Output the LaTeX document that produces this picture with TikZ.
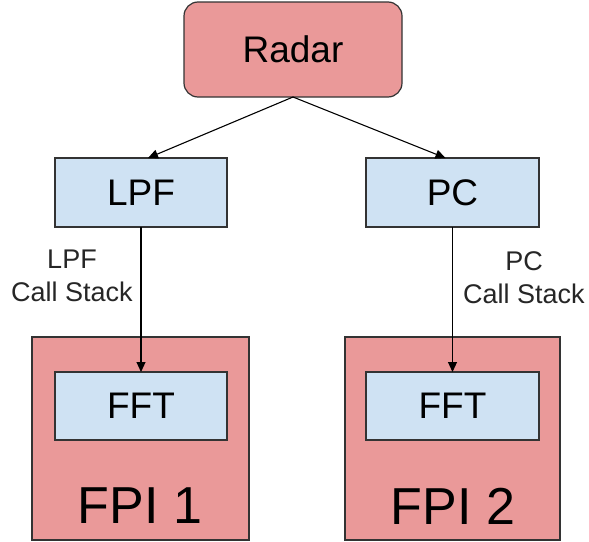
\documentclass[tikz,border=0pt]{standalone}
\usepackage{fontspec}
\setmainfont{Liberation Sans}
\usetikzlibrary{arrows.meta,calc}
\definecolor{redfill}{HTML}{EA9999}
\definecolor{bluefill}{HTML}{CFE2F3}
\definecolor{edgecol}{HTML}{333333}
\begin{document}
\begin{tikzpicture}[x=1pt,y=-1pt,
  box/.style={draw=edgecol,line width=1.2pt,inner sep=0pt,outer sep=0pt},
  redbox/.style={box,fill=redfill},
  bluebox/.style={box,fill=bluefill,font=\fontsize{37}{44}\selectfont},
  conn/.style={draw=black,line width=1.1pt,-{Triangle[length=10pt,width=9pt]}},
  lbl/.style={inner sep=0pt,align=center,font=\fontsize{27}{33}\selectfont,text=black!85},
  big/.style={inner sep=0pt,font=\fontsize{52}{60}\selectfont}]
\useasboundingbox (0,0) rectangle (589,541);
% containers
\node[redbox,minimum width=217pt,minimum height=203pt] (fpi1) at (140.5,438.5) {};
\node[redbox,minimum width=215pt,minimum height=203pt] (fpi2) at (452.5,438.5) {};
\node[big] (fpi1t) at (140,506) {FPI 1};
\node[big] (fpi2t) at (453,506) {FPI 2};
% nodes
\node[redbox,rounded corners=14pt,minimum width=218pt,minimum height=95pt,font=\fontsize{37}{44}\selectfont] (radar) at (293,49.5) {Radar};
\node[bluebox,minimum width=172pt,minimum height=69pt] (lpf) at (141,192.5) {LPF};
\node[bluebox,minimum width=173pt,minimum height=69pt] (pc) at (452.5,192.5) {PC};
\node[bluebox,minimum width=172pt,minimum height=68pt] (fft1) at (141,406) {FFT};
\node[bluebox,minimum width=173pt,minimum height=68pt] (fft2) at (452.5,406) {FFT};
% labels
\node[lbl] (lpflbl) at (72,275.5) {LPF\\Call Stack};
\node[lbl] (pclbl) at (524,277.5) {PC\\Call Stack};
% connectors
\draw[conn] (radar.south) -- ([xshift=7pt]lpf.north);
\draw[conn] (radar.south) -- ([xshift=-7pt]pc.north);
\draw[conn] (lpf.south) -- (fft1.north);
\draw[conn] (pc.south) -- (fft2.north);
\end{tikzpicture}
\end{document}
